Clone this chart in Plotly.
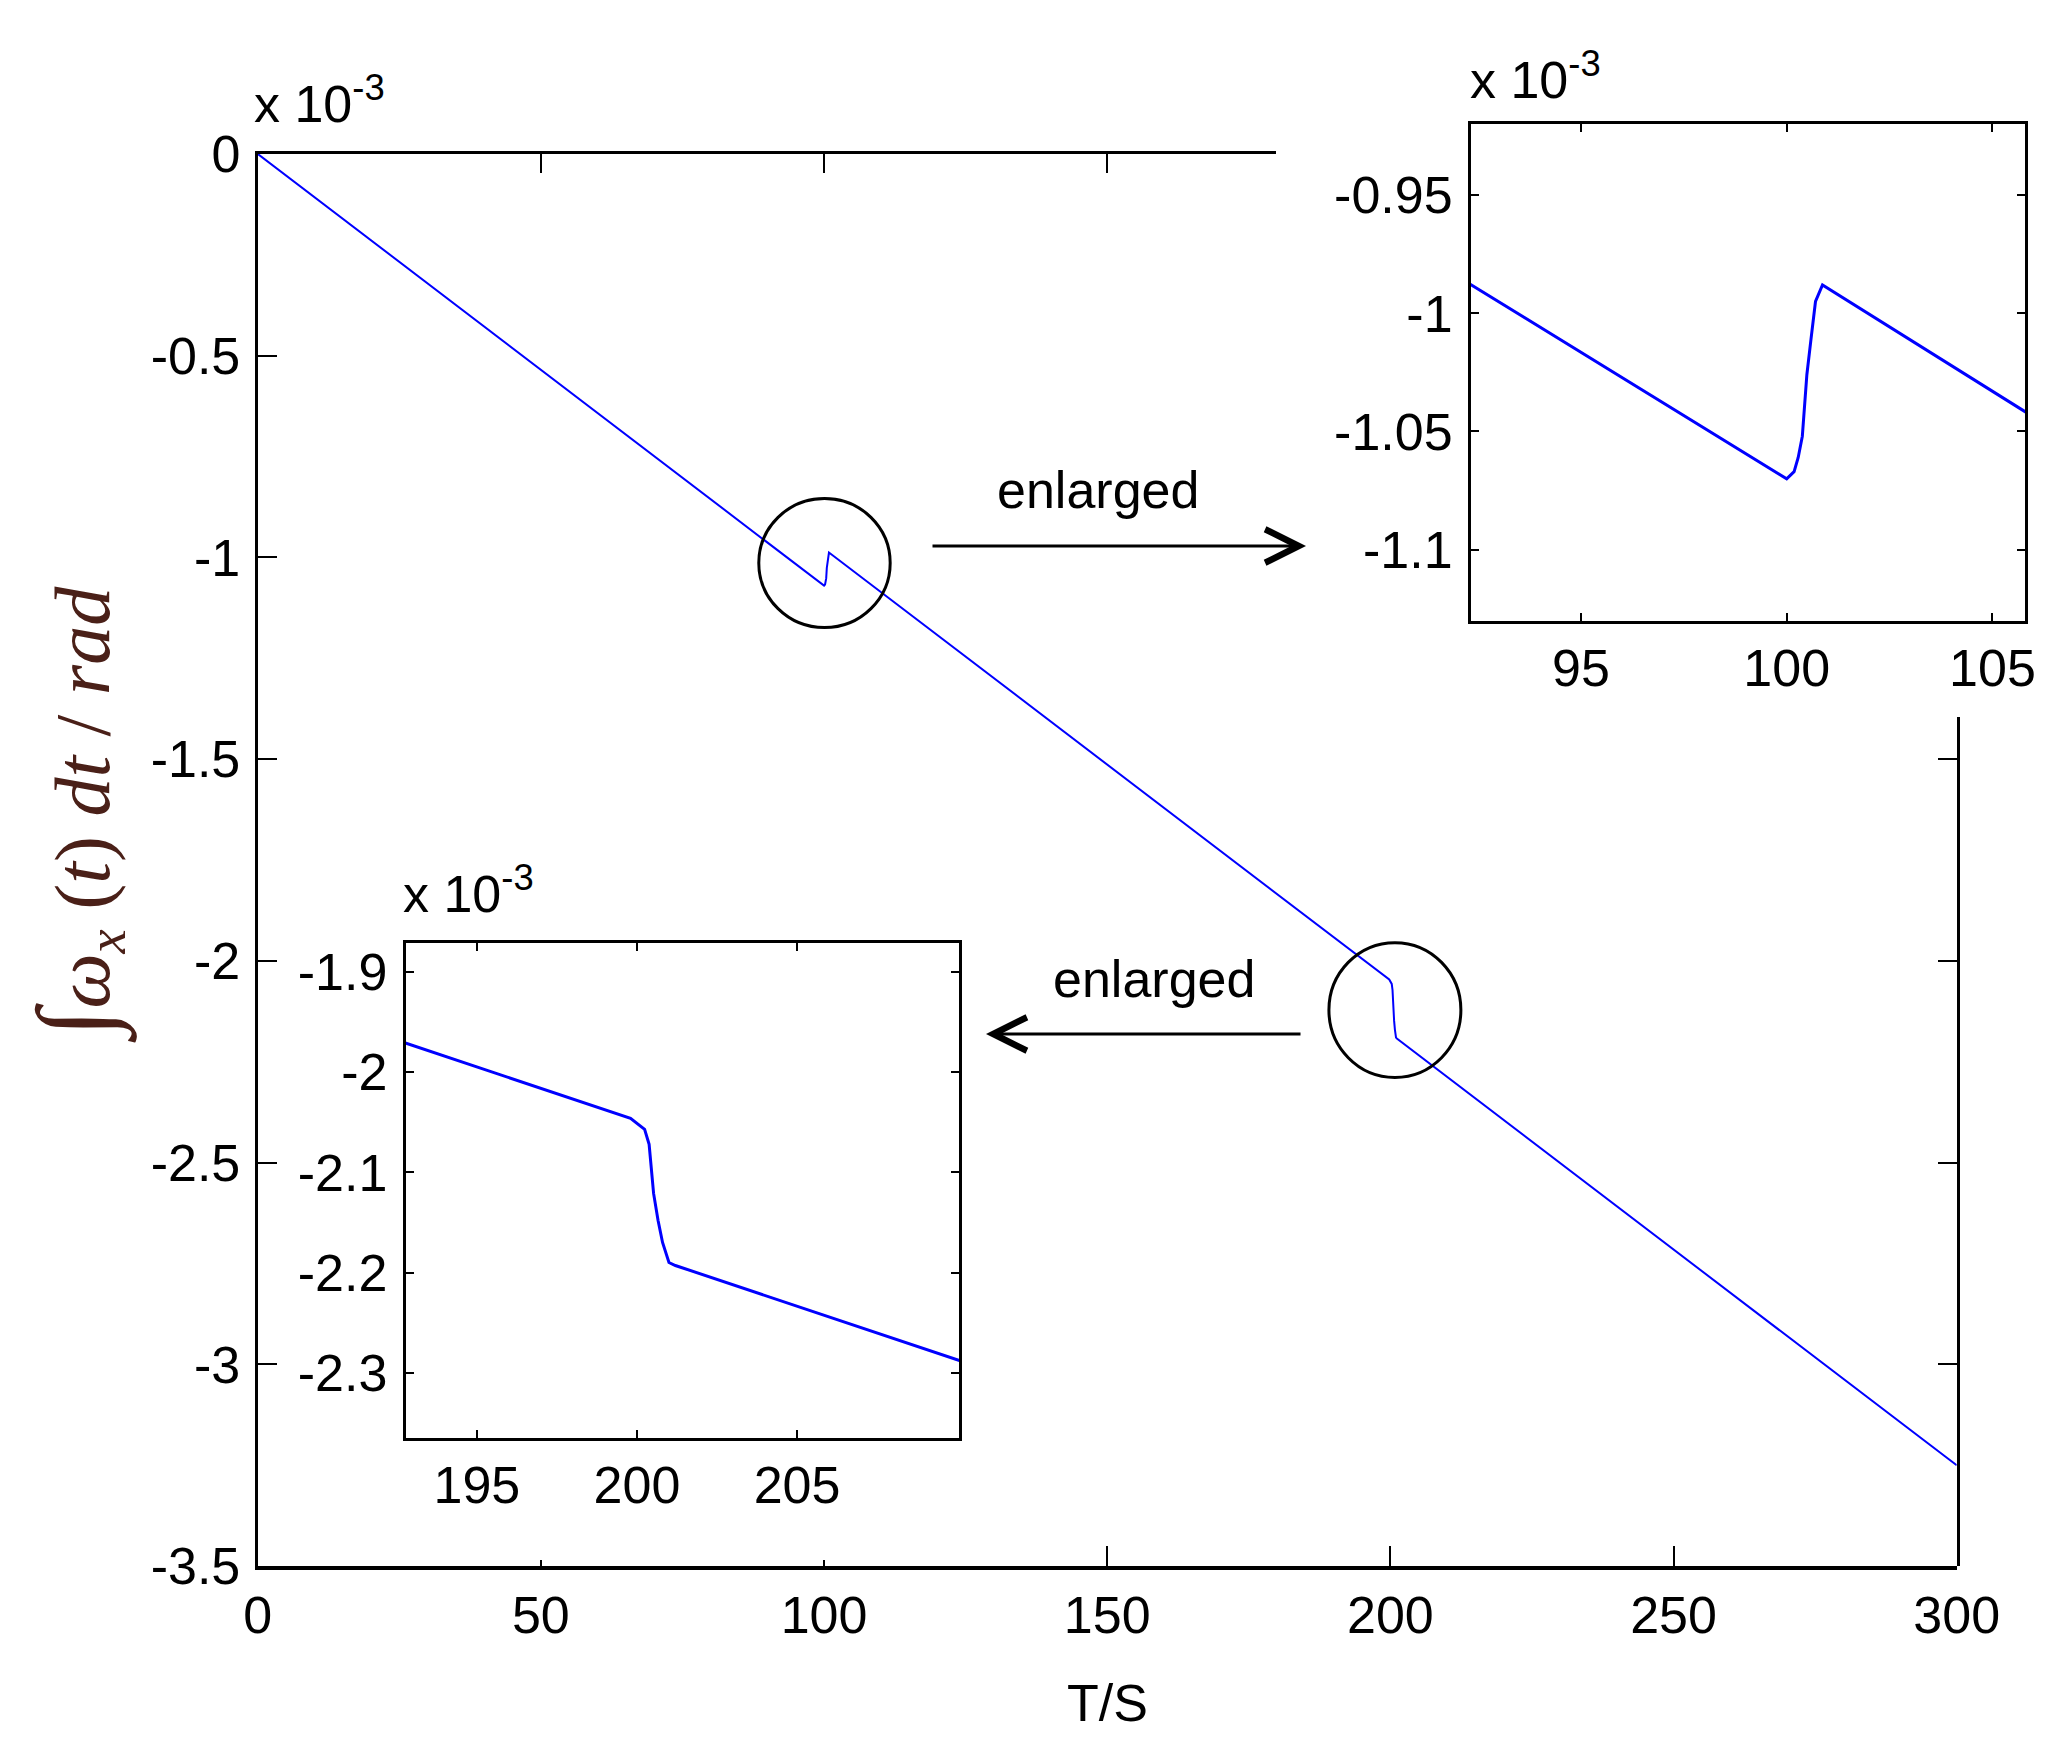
import plotly.graph_objects as go

# time (s) and integrated angular rate (x 10^-3 rad)
t_s = [0, 100.0, 100.18, 100.28, 100.38, 100.49, 100.59, 100.70, 100.87,
       199.8, 200.1, 200.24, 200.38, 200.52, 200.66, 200.8, 201.0, 201.2, 300]
omega_int = [0, -1.070, -1.067, -1.061, -1.052, -1.026, -1.011, -0.995, -0.988,
             -2.046, -2.054, -2.057, -2.072, -2.121, -2.148, -2.170, -2.190, -2.193, -3.250]

main_xticks = [0, 50, 100, 150, 200, 250, 300]
main_yticks = [0, -0.5, -1, -1.5, -2, -2.5, -3, -3.5]
main_ylabels = ['0', '-0.5', '-1', '-1.5', '-2', '-2.5', '-3', '-3.5']

in1_xticks = [95, 100, 105]
in1_yticks = [-0.95, -1, -1.05, -1.1]
in1_ylabels = ['-0.95', '-1', '-1.05', '-1.1']

in2_xticks = [195, 200, 205]
in2_yticks = [-1.9, -2, -2.1, -2.2, -2.3]
in2_ylabels = ['-1.9', '-2', '-2.1', '-2.2', '-2.3']

W, H = 2062, 1746
OFF = 8  # page body margin


def px(v):
    return (v - OFF) / W


def py(v):
    return 1 - (v - OFF) / H


TICK_FONT = dict(family='Liberation Sans, Arial', size=52, color='black')
BLUE = '#0000ff'

fig = go.Figure()

# main curve
fig.add_trace(go.Scatter(x=t_s, y=omega_int, mode='lines', line=dict(color=BLUE, width=2),
                         xaxis='x', yaxis='y', showlegend=False))
# enlarged views
fig.add_trace(go.Scatter(x=t_s, y=omega_int, mode='lines', line=dict(color=BLUE, width=3),
                         xaxis='x2', yaxis='y2', showlegend=False))
fig.add_trace(go.Scatter(x=t_s, y=omega_int, mode='lines', line=dict(color=BLUE, width=3),
                         xaxis='x3', yaxis='y3', showlegend=False))
# empty traces so the partial frame axes get drawn
fig.add_trace(go.Scatter(x=[], y=[], xaxis='x4', yaxis='y', showlegend=False))
fig.add_trace(go.Scatter(x=[], y=[], xaxis='x', yaxis='y4', showlegend=False))
fig.add_trace(go.Scatter(x=[], y=[], xaxis='x5', yaxis='y', showlegend=False))

main_x = [px(257.7), px(1956.7)]
main_y = [py(1566.2), py(153.9)]
frame = dict(showline=True, linecolor='black', linewidth=3, showgrid=False, zeroline=False,
             ticks='inside', tickcolor='black', tickwidth=2, automargin=False)

fig.update_layout(
    width=W, height=H,
    margin=dict(l=0, r=0, t=0, b=0, autoexpand=False),
    paper_bgcolor='white', plot_bgcolor='rgba(0,0,0,0)',
    font=TICK_FONT,
    xaxis=dict(frame, domain=main_x, range=[0, 300], anchor='y', tickvals=main_xticks,
               ticklen=6, tickfont=TICK_FONT, ticklabelstandoff=0, linewidth=4),
    yaxis=dict(frame, domain=main_y, range=[-3.5, 0], anchor='x', tickvals=main_yticks,
               ticktext=main_ylabels, ticklen=19, tickfont=TICK_FONT, ticklabelstandoff=4),
    # long bottom ticks
    xaxis5=dict(overlaying='x', side='bottom', range=[0, 300], tickvals=[150, 200, 250],
                ticks='inside', ticklen=20, tickwidth=2, tickcolor='black', automargin=False,
                showticklabels=False, showgrid=False, zeroline=False, showline=False),
    # partial top frame
    xaxis4=dict(frame, domain=[px(257.7), px(1275.6)], range=[0, 179.74], anchor='y', side='top',
                tickvals=[50, 100, 150], ticklen=19, showticklabels=False),
    # partial right frame
    yaxis4=dict(frame, domain=[py(1566.2), py(716.7)], range=[-3.5, -1.3948], anchor='x', side='right',
                tickvals=[-3, -2.5, -2, -1.5], ticklen=19, showticklabels=False),
    # top-right inset
    xaxis2=dict(frame, domain=[px(1471), px(2025)], range=[92.33, 105.79], anchor='y2', mirror='ticks',
                tickvals=in1_xticks, ticklen=8, tickfont=TICK_FONT, ticklabelstandoff=0),
    yaxis2=dict(frame, domain=[py(620.8), py(124)], range=[-1.1301, -0.9199], anchor='x2', mirror='ticks',
                tickvals=in1_yticks, ticktext=in1_ylabels, ticklen=8, tickfont=TICK_FONT,
                ticklabelstandoff=5),
    # bottom-left inset
    xaxis3=dict(frame, domain=[px(405.8), px(959)], range=[192.78, 210.06], anchor='y3', mirror='ticks',
                tickvals=in2_xticks, ticklen=8, tickfont=TICK_FONT, ticklabelstandoff=0),
    yaxis3=dict(frame, domain=[py(1438), py(942.7)], range=[-2.3653, -1.8706], anchor='x3', mirror='ticks',
                tickvals=in2_yticks, ticktext=in2_ylabels, ticklen=8, tickfont=TICK_FONT,
                ticklabelstandoff=5),
)

# circles around the two disturbances
fig.add_shape(type='circle', xref='x', yref='y', x0=100.08 - 11.6, x1=100.08 + 11.6,
              y0=-1.0139 - 0.16, y1=-1.0139 + 0.16, line=dict(color='black', width=3))
fig.add_shape(type='circle', xref='x', yref='y', x0=200.8 - 11.65, x1=200.8 + 11.65,
              y0=-2.1217 - 0.167, y1=-2.1217 + 0.167, line=dict(color='black', width=3))

# arrows
fig.add_annotation(x=px(1306), y=py(546), xref='paper', yref='paper', ax=-375, ay=0, text='',
                   showarrow=True, arrowhead=5, arrowsize=2.2, arrowwidth=3, arrowcolor='black', standoff=0)
fig.add_annotation(x=px(986), y=py(1034), xref='paper', yref='paper', ax=316, ay=0, text='',
                   showarrow=True, arrowhead=5, arrowsize=2.2, arrowwidth=3, arrowcolor='black', standoff=0)

ENL_FONT = dict(family='Liberation Sans, Arial', size=52, color='black')
for xc, yc in [(1098, 490), (1154, 979)]:
    fig.add_annotation(x=px(xc), y=py(yc), xref='paper', yref='paper', xanchor='center', yanchor='middle',
                       text='enlarged', showarrow=False, font=ENL_FONT)

# exponent labels
for xl, yb in [(252, 135), (1468, 111), (401, 925)]:
    fig.add_annotation(x=px(xl), y=py(yb), xref='paper', yref='paper', xanchor='left', yanchor='bottom',
                       text='x 10<sup>-3</sup>', showarrow=False, font=TICK_FONT)

# axis titles
fig.add_annotation(x=px(1107), y=py(1703), xref='paper', yref='paper', xanchor='center', yanchor='middle',
                   text='T/S', showarrow=False, font=TICK_FONT)
fig.add_annotation(
    x=px(76), y=py(815), xref='paper', yref='paper', xanchor='center', yanchor='middle',
    textangle=-90, showarrow=False,
    text="<span style='font-size:104px'>∫</span><i>ω<sub>x</sub></i> (<i>t</i>) <i>dt</i> / <i>rad</i>",
    font=dict(family='Liberation Serif, Times New Roman', size=78, color='#4a2018'))

fig.write_html("out.html")
